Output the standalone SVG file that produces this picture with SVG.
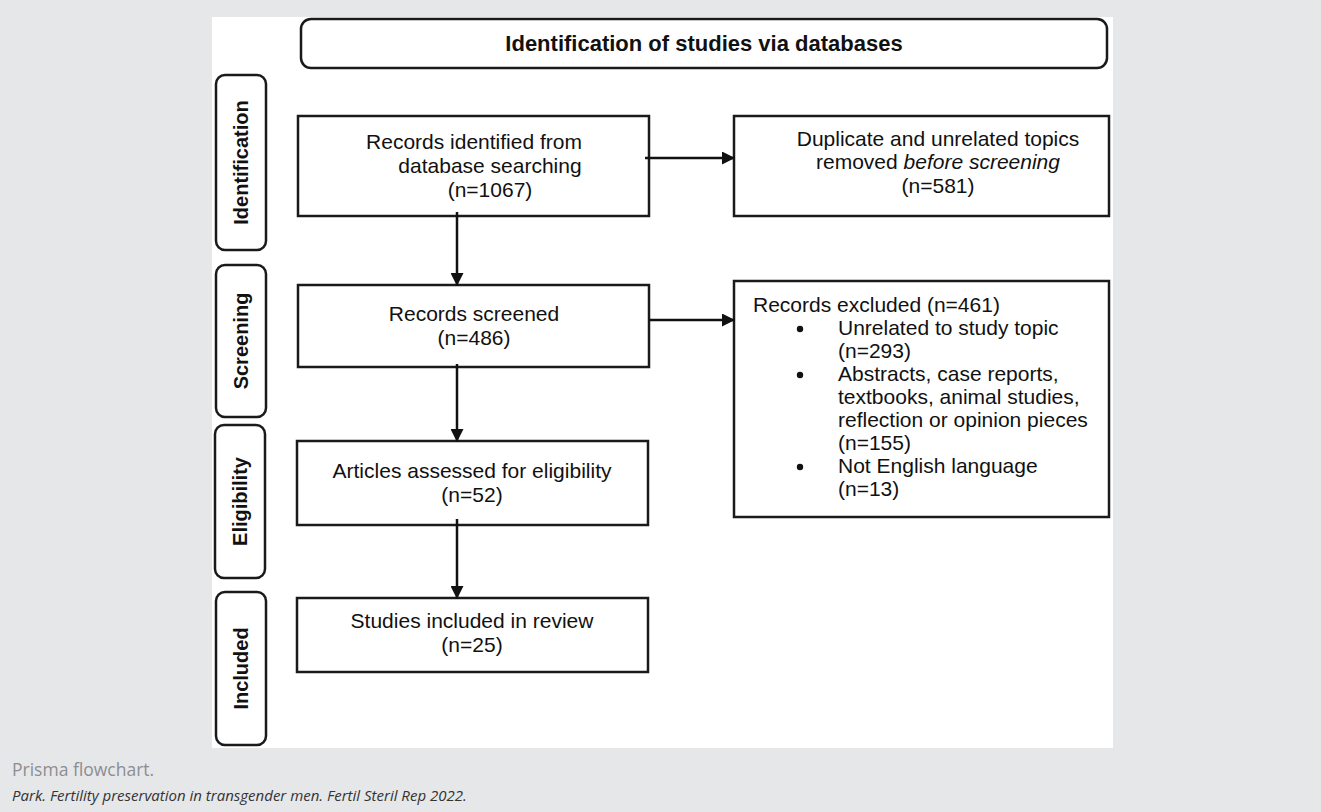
<svg xmlns="http://www.w3.org/2000/svg" width="1321" height="812" viewBox="0 0 1321 812">
  <defs>
    <marker id="arrow" viewBox="0 0 13 13" refX="13" refY="6.5" markerWidth="13" markerHeight="13" markerUnits="userSpaceOnUse" orient="auto">
      <path d="M0,0 L13,6.5 L0,13 Z" fill="#111"/>
    </marker>
    <style>
      .box { fill: #fff; stroke: #1a1a1a; stroke-width: 2.5; }
      .side { fill: #fff; stroke: #1a1a1a; stroke-width: 2.5; }
      .t { font-family: "Liberation Sans", Arial, sans-serif; font-size: 21px; fill: #111; }
      .c { text-anchor: middle; }
      .sl { font-family: "Liberation Sans", Arial, sans-serif; font-size: 20px; font-weight: bold; fill: #111; text-anchor: middle; }
      .hd { font-family: "Liberation Sans", Arial, sans-serif; font-size: 22px; font-weight: bold; fill: #111; text-anchor: middle; }
      .conn { stroke: #111; stroke-width: 2.5; fill: none; marker-end: url(#arrow); }
      .cap { font-family: "Open Sans", "Noto Sans", sans-serif; font-size: 17.5px; fill: #8c8e91; }
      .src { font-family: "Open Sans", "Noto Sans", sans-serif; font-size: 15px; font-style: italic; fill: #333; }
    </style>
  </defs>
  <rect x="0" y="0" width="1321" height="812" fill="#e6e7e9"/>
  <rect x="212" y="17" width="901" height="731" fill="#fff"/>

  <g id="header">
    <rect x="301" y="19" width="806" height="49" rx="10" class="side"/>
    <text x="704" y="51" class="hd">Identification of studies via databases</text>
  </g>

  <g id="lane-identification">
    <rect x="216" y="75" width="50" height="175" rx="9" class="side"/>
    <text transform="translate(248,162.5) rotate(-90)" class="sl">Identification</text>
  </g>
  <g id="lane-screening">
    <rect x="216" y="265" width="50" height="152" rx="9" class="side"/>
    <text transform="translate(248,341) rotate(-90)" class="sl">Screening</text>
  </g>
  <g id="lane-eligibility">
    <rect x="215" y="425" width="50" height="153" rx="9" class="side"/>
    <text transform="translate(247,501.5) rotate(-90)" class="sl">Eligibility</text>
  </g>
  <g id="lane-included">
    <rect x="216" y="592" width="50" height="153" rx="9" class="side"/>
    <text transform="translate(248,668.5) rotate(-90)" class="sl">Included</text>
  </g>

  <g id="records-identified">
    <rect x="298" y="116" width="351" height="100" class="box"/>
    <text x="474" y="149" class="t c">Records identified from</text>
    <text x="490" y="173" class="t c">database searching</text>
    <text x="490" y="197" class="t c">(n=1067)</text>
  </g>

  <g id="duplicates-removed">
    <rect x="734" y="116" width="375" height="100" class="box"/>
    <text x="938" y="146" class="t c">Duplicate and unrelated topics</text>
    <text x="938" y="169" class="t c">removed <tspan font-style="italic">before screening</tspan></text>
    <text x="938" y="193" class="t c">(n=581)</text>
  </g>

  <g id="records-screened">
    <rect x="298" y="285" width="351" height="82" class="box"/>
    <text x="474" y="321" class="t c">Records screened</text>
    <text x="474" y="345" class="t c">(n=486)</text>
  </g>

  <g id="records-excluded">
    <rect x="734" y="281" width="375" height="236" class="box"/>
    <text x="753" y="312" class="t">Records excluded (n=461)</text>
    <circle cx="800" cy="329" r="3.2" fill="#111"/>
    <text x="838" y="335" class="t">Unrelated to study topic</text>
    <text x="838" y="358" class="t">(n=293)</text>
    <circle cx="800" cy="375" r="3.2" fill="#111"/>
    <text x="838" y="381" class="t">Abstracts, case reports,</text>
    <text x="838" y="404" class="t">textbooks, animal studies,</text>
    <text x="838" y="427" class="t">reflection or opinion pieces</text>
    <text x="838" y="450" class="t">(n=155)</text>
    <circle cx="800" cy="467" r="3.2" fill="#111"/>
    <text x="838" y="473" class="t">Not English language</text>
    <text x="838" y="496" class="t">(n=13)</text>
  </g>

  <g id="articles-assessed">
    <rect x="297" y="441" width="351" height="84" class="box"/>
    <text x="472" y="478" class="t c">Articles assessed for eligibility</text>
    <text x="472" y="502" class="t c">(n=52)</text>
  </g>

  <g id="studies-included">
    <rect x="297" y="598" width="351" height="74" class="box"/>
    <text x="472" y="628" class="t c">Studies included in review</text>
    <text x="472" y="652" class="t c">(n=25)</text>
  </g>

  <g id="connectors">
    <line x1="457" y1="212" x2="457" y2="286" class="conn"/>
    <line x1="457" y1="364" x2="457" y2="442" class="conn"/>
    <line x1="457" y1="519" x2="457" y2="599" class="conn"/>
    <line x1="645" y1="158" x2="735" y2="158" class="conn"/>
    <line x1="649" y1="320" x2="735" y2="320" class="conn"/>
  </g>

  <g id="caption">
    <text x="12" y="776" class="cap">Prisma flowchart.</text>
    <text x="12" y="801" class="src">Park. Fertility preservation in transgender men. Fertil Steril Rep 2022.</text>
  </g>
</svg>
